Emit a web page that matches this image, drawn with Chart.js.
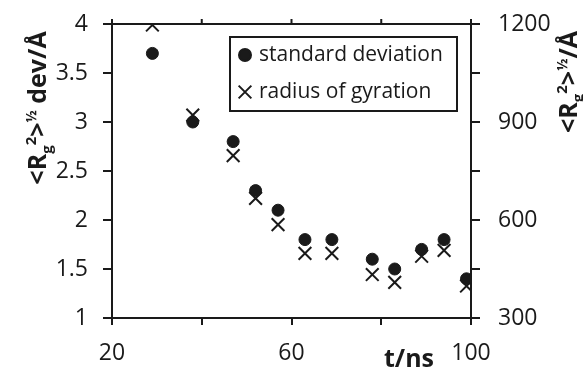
<!DOCTYPE html>
<html>
<head>
<meta charset="utf-8">
<script src="https://cdn.jsdelivr.net/npm/chart.js@4/dist/chart.umd.min.js"></script>
<style>
  html, body { margin: 0; padding: 0; background: #fff; }
  #wrap { width: 583px; height: 373px; }
</style>
</head>
<body>
<div id="wrap"><canvas id="myChart" width="583" height="373"></canvas></div>
<script>
// time points (ns)
var times = [29, 38, 47, 52, 57, 63, 69, 78, 83, 89, 94, 99];
// standard deviation of <Rg^2>^1/2 (left axis, Å)
var stdDev = [3.7, 3.0, 2.8, 2.3, 2.1, 1.8, 1.8, 1.6, 1.5, 1.7, 1.8, 1.4];
// radius of gyration (right axis, Å)
var radius = [1197, 921, 797, 666, 586, 498, 498, 433, 409, 489, 507, 398];

var xTickLabels = [20, 60, 100];
var yRightLabels = [300, 600, 900, 1200];

var ink = '#1a1a1a';
var fontFam = '"Open Sans", "Liberation Sans", sans-serif';

function pts(xs, ys) {
  return xs.map(function(x, i) { return { x: x, y: ys[i] }; });
}

// draws "<Rg2>½ ..." with sub/superscripts, rotated -90deg, centred at (cx, cy)
function drawTitle(ctx, tail, cx, cy) {
  var segs = [
    { t: '<R', s: 25, dy: 0 },
    { t: 'g', s: 15, dy: 6 },
    { t: '2', s: 15, dy: -10 },
    { t: '>', s: 25, dy: 0 },
    { t: '½', s: 14, dy: -10 },
    { t: tail, s: 25, dy: 0 }
  ];
  ctx.save();
  ctx.fillStyle = ink;
  ctx.textBaseline = 'alphabetic';
  ctx.textAlign = 'left';
  var total = 0;
  segs.forEach(function(sg) {
    ctx.font = 'bold ' + sg.s + 'px ' + fontFam;
    sg.w = ctx.measureText(sg.t).width;
    total += sg.w;
  });
  ctx.translate(cx, cy);
  ctx.rotate(-Math.PI / 2);
  var x = -total / 2;
  segs.forEach(function(sg) {
    ctx.font = 'bold ' + sg.s + 'px ' + fontFam;
    ctx.fillText(sg.t, x, sg.dy);
    x += sg.w;
  });
  ctx.restore();
}

var extras = {
  id: 'extras',
  afterDraw: function(chart) {
    var ctx = chart.ctx;
    var area = chart.chartArea;
    var xs = chart.scales.x;

    // top frame line with outward ticks
    ctx.save();
    ctx.strokeStyle = ink;
    ctx.lineWidth = 2;
    ctx.beginPath();
    ctx.moveTo(area.left - 1, area.top);
    ctx.lineTo(area.right + 1, area.top);
    xs.ticks.forEach(function(t) {
      var px = xs.getPixelForValue(t.value);
      ctx.moveTo(px, area.top);
      ctx.lineTo(px, area.top - 5);
    });
    ctx.stroke();
    ctx.restore();

    // axis titles
    drawTitle(ctx, ' dev/Å', 46, 108);
    drawTitle(ctx, '/Å', 577, 82);
    ctx.save();
    ctx.fillStyle = ink;
    ctx.font = 'bold 25px ' + fontFam;
    ctx.textAlign = 'left';
    ctx.textBaseline = 'alphabetic';
    ctx.fillText('t/ns', 384, 367);

    // legend box
    ctx.strokeStyle = ink;
    ctx.lineWidth = 2;
    ctx.strokeRect(230, 37, 227, 74);
    ctx.font = '21px ' + fontFam;
    ctx.textBaseline = 'middle';
    var ds = chart.data.datasets;
    var rows = [55, 92];
    ds.forEach(function(d, i) {
      Chart.helpers.drawPoint(ctx, {
        pointStyle: d.pointStyle,
        radius: d.pointRadius,
        borderWidth: d.pointBorderWidth || 1
      }, 245, rows[i]);
      ctx.fillStyle = ink;
      ctx.strokeStyle = ink;
      ctx.fillText(d.label, 259, rows[i]);
    });
    ctx.restore();
  }
};

function fixW(w) {
  return function(s) { s.width = w; s.paddingTop = 10; s.paddingBottom = 10; };
}
function fixH(h) { return function(s) { s.height = h; }; }

var axisBase = {
  border: { display: true, color: ink, width: 2 },
  grid: { drawOnChartArea: false, drawTicks: true, color: ink, lineWidth: 2 }
};

var config = {
  type: 'scatter',
  data: {
    datasets: [{
      label: 'standard deviation',
      data: pts(times, stdDev),
      pointStyle: 'circle',
      pointRadius: 6,
      backgroundColor: ink,
      borderColor: ink,
      pointBorderWidth: 1,
      yAxisID: 'y'
    }, {
      label: 'radius of gyration',
      data: pts(times, radius),
      pointStyle: 'crossRot',
      pointRadius: 9,
      backgroundColor: ink,
      borderColor: ink,
      pointBorderWidth: 2,
      yAxisID: 'y2'
    }]
  },
  options: {
    responsive: false,
    animation: false,
    devicePixelRatio: 1,
    layout: { padding: { top: 24, left: 0, right: 0, bottom: 0 } },
    plugins: { legend: { display: false }, tooltip: { enabled: false } },
    scales: {
      x: {
        type: 'linear', position: 'bottom', min: 20, max: 100,
        border: axisBase.border,
        grid: Object.assign({}, axisBase.grid, { tickLength: 7 }),
        ticks: {
          stepSize: 20, color: ink, padding: 15, maxRotation: 0,
          font: { family: fontFam, size: 23 },
          callback: function(v) { return xTickLabels.indexOf(v) >= 0 ? String(v) : ''; }
        },
        afterFit: fixH(55)
      },
      y: {
        type: 'linear', position: 'left', min: 1, max: 4,
        border: axisBase.border,
        grid: Object.assign({}, axisBase.grid, { tickLength: 9 }),
        ticks: {
          stepSize: 0.5, color: ink, padding: 15,
          font: { family: fontFam, size: 23 },
          callback: function(v) { return String(v); }
        },
        afterFit: fixW(112)
      },
      y2: {
        type: 'linear', position: 'right', min: 300, max: 1200,
        border: axisBase.border,
        grid: Object.assign({}, axisBase.grid, { tickLength: 9 }),
        ticks: {
          stepSize: 150, color: ink, padding: 18,
          font: { family: fontFam, size: 23 },
          callback: function(v) { return yRightLabels.indexOf(v) >= 0 ? String(v) : ''; }
        },
        afterFit: fixW(112)
      }
    }
  },
  plugins: [extras]
};

var ctx = document.getElementById('myChart').getContext('2d');
var myChart = new Chart(ctx, config);
</script>
</body>
</html>
